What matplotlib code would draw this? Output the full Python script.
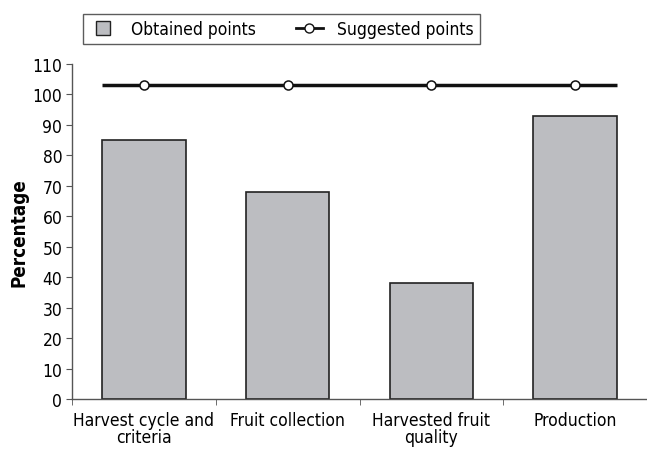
import matplotlib
matplotlib.use("Agg")
import matplotlib.pyplot as plt
from matplotlib.lines import Line2D

# data
categories = ["Harvest cycle and\ncriteria", "Fruit collection", "Harvested fruit\nquality", "Production"]
obtained = [85, 68, 38, 93]
suggested = [103, 103, 103, 103]
y_ticks = list(range(0, 111, 10))

plt.rcParams['font.family'] = ['DejaVu Sans']
plt.rcParams['font.stretch'] = 'condensed'

bar_color = "#bcbdc1"
edge_color = "#222222"
bar_width = 0.58

fig = plt.figure(figsize=(6.47, 4.52), dpi=100)
ax = fig.add_axes([72 / 647, 1 - 400 / 452, 575 / 647, 335 / 452])

x = list(range(len(categories)))
ax.bar(x, obtained, width=bar_width, color=bar_color, edgecolor=edge_color, linewidth=1.2, zorder=2)

# suggested points: flat line spanning the bars, circles at each category
ax.hlines(suggested[0], x[0] - bar_width / 2, x[-1] + bar_width / 2, color="#111111", linewidth=2.5, zorder=3)
ax.plot(x, suggested, linestyle="none", marker="o", markersize=6.5, markerfacecolor="white",
        markeredgecolor="#111111", markeredgewidth=1.1, zorder=4)

ax.set_xlim(-0.5, len(categories) - 0.5)
ax.set_ylim(0, 110)
ax.set_yticks(y_ticks)
ax.set_xticks(x)
ax.set_xticklabels(categories, fontsize=12.5, linespacing=0.9)
ax.set_xticks([i - 0.5 for i in range(len(categories))], minor=True)
ax.tick_params(axis="x", which="major", length=0, pad=9)
ax.tick_params(axis="x", which="minor", length=4, color="#555555")
ax.tick_params(axis="y", length=4, color="#555555", labelsize=12.5, pad=3)

for side in ["top", "right"]:
    ax.spines[side].set_visible(False)
ax.spines["left"].set_color("#555555")
ax.spines["bottom"].set_color("#555555")
ax.spines["left"].set_linewidth(1.0)
ax.spines["bottom"].set_linewidth(1.0)

ax.set_ylabel("Percentage", fontsize=13.5, fontweight="bold", labelpad=3)

legend_elements = [
    Line2D([0], [0], marker="s", color="none", markerfacecolor=bar_color, markeredgecolor=edge_color,
           markersize=10, label="Obtained points"),
    Line2D([0], [0], color="#111111", lw=2, marker="o", markersize=6.5, markerfacecolor="white",
           markeredgecolor="#111111", label="Suggested points"),
]
leg = fig.legend(handles=legend_elements, loc="upper left", bbox_to_anchor=(83 / 647, 1 - 15 / 452),
                 ncol=2, fontsize=12.5, frameon=True, fancybox=False, edgecolor="#333333",
                 borderaxespad=0, handlelength=1.6, columnspacing=2.3, borderpad=0.35, handletextpad=0.8)
leg.get_frame().set_linewidth(1.0)

fig.savefig("out.png", dpi=100, facecolor="white")
